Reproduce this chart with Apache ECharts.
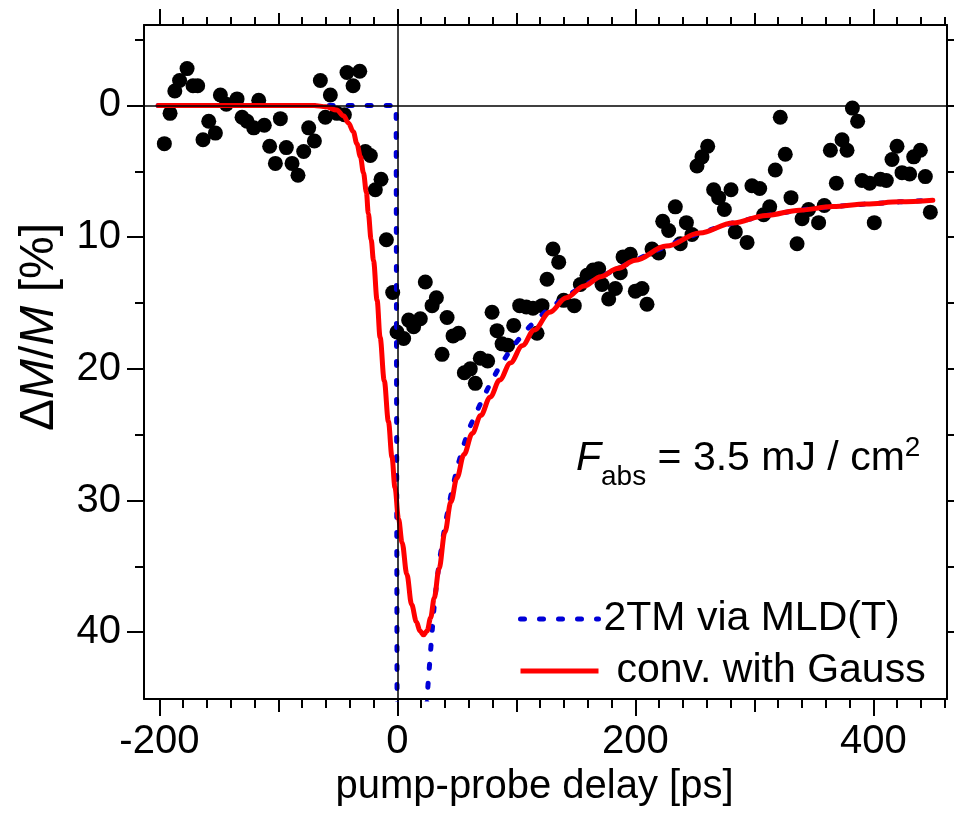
<!DOCTYPE html>
<html><head><meta charset="utf-8">
<script src="https://cdn.jsdelivr.net/npm/echarts@6/dist/echarts.min.js"></script>
<style>html,body{margin:0;padding:0;background:#fff}#c{width:954px;height:822px}</style>
</head><body><div id="c"></div>
<script>
// measured data points (pump-probe delay in ps, ΔM/M in %)
const delayPs = [-195.8,-191,-187,-183,-176.7,-171.7,-167.8,-163.3,-158.5,-152.9,-148.7,-143.7,-134.7,-130.5,-126.3,-120.7,-116.5,-111.8,-107.3,-102.5,-98.3,-93.3,-88.5,-83.5,-78.7,-74.5,-69.7,-64.7,-60.5,-56.3,-50.7,-44.5,-42.3,-37.2,-31.6,-26.9,-22.7,-18.5,-13.7,-9.2,
-3.9,-0.3,5.3,9.5,13.7,19.3,23.5,29.2,32.8,37.6,41.8,46.8,51.5,56.3,61.3,65.5,69.7,75.9,79.6,83.8,88.0,92.7,97.8,102.8,108.4,114.0,117.4,121.6,125.8,130.8,135.6,139.8,148.7,153.8,159.4,164.5,169.2,172,177.6,183.2,187.4,189.7,195.8,200,205.6,209.8,214,219.6,
223,228,233.6,237.8,242.9,247.6,251.8,256,260.8,265.8,270,274.8,280.4,284,293.9,298,304.5,307.8,312.9,317.6,321.8,326,330.8,335.9,340.1,345.6,354,358.8,363.9,368.9,373.7,377.9,382.4,386.8,390.5,396.9,400.8,405.9,410.9,415.7,419.9,424.1,430.5,433.9,439.5,443.7,447.9];
const deltaMM = [2.9,0.6,-1.1,-1.9,-2.8,-1.5,-1.5,2.6,1.2,2.1,-0.8,-0.1,-0.5,0.9,1.2,1.7,-0.4,1.5,3.1,4.4,1.0,3.2,4.4,5.3,3.5,1.7,2.7,-1.9,0.9,-0.8,0.6,0.7,-2.5,-1.5,-2.6,3.5,3.8,6.4,5.6,10.2,
14.2,17.2,17.7,16.3,16.8,16.2,13.4,15.2,14.6,18.9,16.1,17.5,17.3,20.3,20.0,21.1,19.2,19.4,15.7,17.1,18.1,18.2,16.7,15.2,15.3,15.4,17.3,15.2,13.2,10.9,11.9,14.8,15.2,13.6,12.9,12.5,12.4,13.6,14.7,13.9,12.7,11.5,11.3,14.1,13.9,15.1,10.9,11.2,
8.8,9.5,7.7,10.5,8.9,9.8,4.6,3.9,3.1,6.4,7.0,7.9,6.4,9.6,10.4,6.1,6.3,8.3,7.7,4.9,0.9,3.7,7.0,10.5,8.6,7.9,8.9,7.6,3.4,5.9,2.6,3.4,0.2,1.2,5.7,5.9,8.9,5.6,5.7,4.1,3.1,5.1,5.2,3.9,3.4,5.4,8.1];

// model curve: convolution with Gauss
const convX = [-201,-100,-70,-60,-51,-45,-41,-37,-34,-31,-28.5,-26,-24.4,-22,-20,-17,-14.5,-11,-7.5,-4.5,-2,1,4,8,12,16,19,22,25,28,31,35,40,45,50,56,63,70,78,86,95,105,115,128,142,157,171,185,200,226,254,282,310,338,366,394,422,450];
const convY = [0,0,0,0.1,0.35,0.8,1.35,2.0,2.9,3.9,5.1,6.6,8.2,10.2,11.8,14.8,17.6,20.9,24.0,26.7,29.0,31.4,33.2,35.6,37.9,39.2,39.9,40.2,39.9,38.9,37.4,35.2,32.4,30.1,28.3,26.5,24.9,23.55,22.15,20.85,19.55,18.25,17.05,15.7,14.6,13.7,13.0,12.38,11.75,10.68,9.68,8.92,8.35,7.95,7.68,7.48,7.32,7.2];

// model curve: 2TM via MLD(T)
const tmX = [-201,-100,-1,0,0,10,22,25.5,28.3,31.2,35,40,45,50,55,60,65,69,77,86,97,111,125,142,157,171,200,226,254,282,310,338,366,394,422,450];
const tmY = [0,0,0,0,60,70,50,44.3,41,37.7,34.8,31.9,29.6,27.6,26.0,24.6,23.6,22.8,21.3,19.8,18.3,16.8,15.6,14.5,13.65,13.0,11.75,10.68,9.68,8.92,8.35,7.95,7.68,7.48,7.32,7.2];

// axes
const xRange = [-212.9, 461.9];
const yRange = [-6.11, 45.07];
const xTickLabels = [-200, 0, 200, 400];
const xMidTicks = [-100, 100, 300];
const xMinorTicks = [];
for (let v = -200; v <= 460; v += 20) xMinorTicks.push(v);
const yTickLabels = [0, 10, 20, 30, 40];
const yMinorTicks = [-5, 5, 15, 25, 35];
const yRightTicks = [-5, 0, 5, 10, 15, 20, 25, 30, 35, 40];

const FONT = 'Liberation Sans';
const BLACK = '#000';
const BLUE = '#0000d8';
const RED = '#ff0000';

function pairs(xs, ys) { return xs.map((x, i) => [x, ys[i]]); }

function xAx(pos, ticks, len, opts) {
  return Object.assign({
    type: 'value', position: pos, min: xRange[0], max: xRange[1],
    axisLine: { show: false, onZero: false, lineStyle: { color: BLACK, width: 2 } },
    axisTick: { show: true, length: len, customValues: ticks, lineStyle: { color: BLACK, width: 2 } },
    axisLabel: { show: false },
    splitLine: { show: false }
  }, opts || {});
}
function yAx(pos, ticks, len, opts) {
  return Object.assign({
    type: 'value', position: pos, min: yRange[0], max: yRange[1], inverse: true,
    axisLine: { show: false, onZero: false, lineStyle: { color: BLACK, width: 2 } },
    axisTick: { show: true, length: len, customValues: ticks, lineStyle: { color: BLACK, width: 2 } },
    axisLabel: { show: false },
    splitLine: { show: false }
  }, opts || {});
}

const chart = echarts.init(document.getElementById('c'), null, { renderer: 'canvas' });
chart.setOption({
  animation: false,
  backgroundColor: '#fff',
  textStyle: { fontFamily: FONT },
  grid: { left: 144, right: 7, top: 25, bottom: 123, containLabel: false },
  xAxis: [
    xAx('bottom', xTickLabels, 17, {
      axisLine: { show: true, onZero: false, lineStyle: { color: BLACK, width: 2 } },
      axisLabel: { show: true, customValues: xTickLabels, fontSize: 40, color: BLACK, margin: 23, fontFamily: FONT },
      name: 'pump-probe delay [ps]', nameLocation: 'middle', nameGap: 65,
      nameTextStyle: { fontSize: 40, color: BLACK, fontFamily: FONT, padding: [0, 22, 0, 0] }
    }),
    xAx('bottom', xMidTicks, 13),
    xAx('bottom', xMinorTicks, 9),
    xAx('top', xTickLabels, 16, {
      axisLine: { show: true, onZero: false, lineStyle: { color: BLACK, width: 2 } }
    }),
    xAx('top', xMidTicks, 12),
    xAx('top', xMinorTicks, 8)
  ],
  yAxis: [
    yAx('left', yTickLabels, 17, {
      axisLine: { show: true, onZero: false, lineStyle: { color: BLACK, width: 2 } },
      axisLabel: { show: true, customValues: yTickLabels, fontSize: 40, color: BLACK, margin: 23, fontFamily: FONT },
      name: 'Δ{i|M}/{i|M} [%]', nameLocation: 'middle', nameGap: 80, nameRotate: 90,
      nameTextStyle: { fontSize: 48, color: BLACK, fontFamily: FONT, padding: [0, 0, 0, 70],
        rich: { i: { fontSize: 48, fontStyle: 'italic', color: BLACK, fontFamily: FONT } } }
    }),
    yAx('left', yMinorTicks, 9),
    yAx('right', yRightTicks, 12, {
      axisLine: { show: true, onZero: false, lineStyle: { color: BLACK, width: 2 } }
    })
  ],
  legend: {
    orient: 'vertical', left: 518, top: 596, padding: 0, itemWidth: 78, itemHeight: 1, itemGap: 6,
    selectedMode: false,
    itemStyle: { opacity: 0 },
    textStyle: { fontSize: 41, fontFamily: FONT, color: BLACK, lineHeight: 46,
      rich: { r: { fontSize: 41, fontFamily: FONT, color: BLACK, padding: [0, 0, 0, 13] } } },
    formatter: function (name) { return name === 'conv. with Gauss' ? '{r|' + name + '}' : name; },
    data: [
      { name: '2TM via MLD(T)', lineStyle: { color: BLUE, width: 5, type: [4, 15], cap: 'round' } },
      { name: 'conv. with Gauss', lineStyle: { color: RED, width: 5, type: 'solid', cap: 'butt' } }
    ]
  },
  graphic: [{
    type: 'text', left: 576, top: 426, z: 100,
    style: {
      text: '{f|F}{s|abs}{n| = 3.5 mJ / cm}{p|2}',
      fill: BLACK,
      rich: {
        f: { fontSize: 41, fontStyle: 'italic', fontFamily: FONT, fill: BLACK, lineHeight: 41, verticalAlign: 'middle' },
        s: { fontSize: 28, fontFamily: FONT, fill: BLACK, lineHeight: 28, padding: [37, 0, 0, 0], verticalAlign: 'middle' },
        n: { fontSize: 41, fontFamily: FONT, fill: BLACK, lineHeight: 41, verticalAlign: 'middle' },
        p: { fontSize: 28, fontFamily: FONT, fill: BLACK, lineHeight: 28, padding: [0, 0, 20, 0], verticalAlign: 'middle' }
      }
    }
  }],
  series: [
    {
      type: 'line', data: [], silent: true, z: 1,
      markLine: {
        silent: true, symbol: ['none', 'none'], animation: false,
        label: { show: false },
        lineStyle: { color: BLACK, width: 1.5, type: 'solid' },
        emphasis: { disabled: true },
        data: [{ yAxis: 0 }, { xAxis: 0 }]
      }
    },
    {
      name: 'data', type: 'scatter', data: pairs(delayPs, deltaMM),
      symbol: 'circle', symbolSize: 15, itemStyle: { color: BLACK, opacity: 1 }, z: 2
    },
    {
      name: '2TM via MLD(T)', type: 'line', data: pairs(tmX, tmY),
      showSymbol: false, symbol: 'none', clip: true, z: 3,
      itemStyle: { color: BLUE },
      lineStyle: { color: BLUE, width: 5, type: [4, 15], cap: 'round' }
    },
    {
      name: 'conv. with Gauss', type: 'line', data: pairs(convX, convY),
      showSymbol: false, symbol: 'none', clip: true, z: 4, smooth: 0.35, smoothMonotone: 'x',
      itemStyle: { color: RED },
      lineStyle: { color: RED, width: 5, cap: 'round', join: 'round' }
    }
  ]
});
</script>
</body></html>
